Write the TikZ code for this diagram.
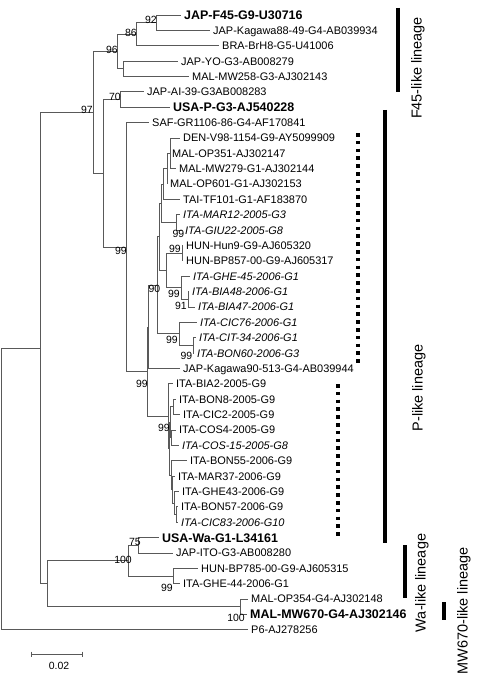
\documentclass[tikz,border=0pt]{standalone}
\usepackage{fontspec}
\setmainfont{Liberation Sans}
\newcommand\leaf[5]{%
  \coordinate (e#1) at (#2-3,#3);
  \node[#4] (L#1) at (#2,#3) {#5};
}
\begin{document}
\begin{tikzpicture}[x=1bp,y=-1bp,
  br/.style={draw=black!65, line width=0.9bp},
  lf/.style={anchor=base west, inner sep=0pt, yshift=-3.9bp, font=\fontsize{11}{13}\selectfont},
  lfi/.style={lf, font=\fontsize{11}{13}\selectfont\itshape},
  lfb/.style={anchor=base west, inner sep=0pt, yshift=-4.5bp, font=\fontsize{12.5}{14}\selectfont\bfseries},
  bs/.style={anchor=east, inner sep=0pt, font=\fontsize{10.5}{12}\selectfont},
  lin/.style={rotate=90, inner sep=0pt, font=\fontsize{14.5}{17}\selectfont},
  lbar/.style={line width=4bp, black},
  dotbar/.style={line width=3.5bp, black, dash pattern=on 3.5bp off 4.3bp},
]
\useasboundingbox (0,0) rectangle (481,678);
\fill[white] (0,0) rectangle (481,678);

% leaves
\leaf{0}{184}{15.00}{lfb}{JAP-F45-G9-U30716}
\leaf{1}{213}{30.37}{lf}{JAP-Kagawa88-49-G4-AB039934}
\leaf{2}{222}{45.74}{lf}{BRA-BrH8-G5-U41006}
\leaf{3}{181}{61.11}{lf}{JAP-YO-G3-AB008279}
\leaf{4}{192}{76.48}{lf}{MAL-MW258-G3-AJ302143}
\leaf{5}{147}{91.85}{lf}{JAP-AI-39-G3AB008283}
\leaf{6}{173}{107.22}{lfb}{USA-P-G3-AJ540228}
\leaf{7}{152}{122.59}{lf}{SAF-GR1106-86-G4-AF170841}
\leaf{8}{183}{137.96}{lf}{DEN-V98-1154-G9-AY5099909}
\leaf{9}{172}{153.33}{lf}{MAL-OP351-AJ302147}
\leaf{10}{179}{168.70}{lf}{MAL-MW279-G1-AJ302144}
\leaf{11}{170}{184.07}{lf}{MAL-OP601-G1-AJ302153}
\leaf{12}{183}{199.44}{lf}{TAI-TF101-G1-AF183870}
\leaf{13}{183}{214.81}{lfi}{ITA-MAR12-2005-G3}
\leaf{14}{185}{230.18}{lfi}{ITA-GIU22-2005-G8}
\leaf{15}{186}{245.55}{lf}{HUN-Hun9-G9-AJ605320}
\leaf{16}{186}{260.92}{lf}{HUN-BP857-00-G9-AJ605317}
\leaf{17}{193}{276.29}{lfi}{ITA-GHE-45-2006-G1}
\leaf{18}{192}{291.66}{lfi}{ITA-BIA48-2006-G1}
\leaf{19}{198}{307.03}{lfi}{ITA-BIA47-2006-G1}
\leaf{20}{200}{322.40}{lfi}{ITA-CIC76-2006-G1}
\leaf{21}{199}{337.77}{lfi}{ITA-CIT-34-2006-G1}
\leaf{22}{197}{353.14}{lfi}{ITA-BON60-2006-G3}
\leaf{23}{183}{368.51}{lf}{JAP-Kagawa90-513-G4-AB039944}
\leaf{24}{176}{383.88}{lf}{ITA-BIA2-2005-G9}
\leaf{25}{179}{399.25}{lf}{ITA-BON8-2005-G9}
\leaf{26}{183}{414.62}{lf}{ITA-CIC2-2005-G9}
\leaf{27}{179}{429.99}{lf}{ITA-COS4-2005-G9}
\leaf{28}{182}{445.36}{lfi}{ITA-COS-15-2005-G8}
\leaf{29}{190}{460.73}{lf}{ITA-BON55-2006-G9}
\leaf{30}{178}{476.10}{lf}{ITA-MAR37-2006-G9}
\leaf{31}{182}{491.47}{lf}{ITA-GHE43-2006-G9}
\leaf{32}{181}{506.84}{lf}{ITA-BON57-2006-G9}
\leaf{33}{181}{522.21}{lfi}{ITA-CIC83-2006-G10}
\leaf{34}{162}{537.58}{lfb}{USA-Wa-G1-L34161}
\leaf{35}{176}{552.95}{lf}{JAP-ITO-G3-AB008280}
\leaf{36}{201}{568.32}{lf}{HUN-BP785-00-G9-AJ605315}
\leaf{37}{183}{583.69}{lf}{ITA-GHE-44-2006-G1}
\leaf{38}{251}{599.06}{lf}{MAL-OP354-G4-AJ302148}
\leaf{39}{250}{614.43}{lfb}{MAL-MW670-G4-AJ302146}
\leaf{40}{251}{629.80}{lf}{P6-AJ278256}

% internal nodes
\coordinate (n92) at (156,22.69);
\coordinate (n86) at (136,34.21);
\coordinate (nYO) at (123,68.80);
\coordinate (n96) at (117,51.51);
\coordinate (n70) at (120,99.54);
\coordinate (q1) at (170,153.33);
\coordinate (q2) at (167,168.70);
\coordinate (q3) at (163,184.07);
\coordinate (q4) at (176,222.50);
\coordinate (q5) at (161,203.29);
\coordinate (q6) at (182,253.24);
\coordinate (q7) at (188,299.35);
\coordinate (q8) at (181,287.82);
\coordinate (q9) at (166,270.53);
\coordinate (nF) at (159.5,236.91);
\coordinate (nH) at (193,345.46);
\coordinate (nG) at (179,333.93);
\coordinate (nE) at (157.5,285.42);
\coordinate (nC) at (148,326.97);
\coordinate (r1) at (173,406.94);
\coordinate (r2) at (171,437.68);
\coordinate (r3) at (170,422.31);
\coordinate (r5) at (176,514.53);
\coordinate (r6) at (174,503.00);
\coordinate (r7) at (172.5,489.55);
\coordinate (r8) at (171,475.14);
\coordinate (r9) at (169.5,448.73);
\coordinate (nD) at (168,416.31);
\coordinate (nB) at (147,371.64);
\coordinate (nA) at (126,247.12);
\coordinate (nP) at (103,173.33);
\coordinate (n97) at (93,112.42);
\coordinate (n75) at (138,545.27);
\coordinate (nHG) at (173,576.01);
\coordinate (nW) at (128,560.64);
\coordinate (nMW) at (240,606.75);
\coordinate (nWM) at (47,583.70);
\coordinate (nbig) at (40,348.06);
\coordinate (root) at (1,488.93);

% branches
\foreach \p/\c in {root/nbig, root/e40, nbig/n97, nbig/nWM, n97/n96, n97/nP,
  n96/n86, n96/nYO, n86/n92, n86/e2, n92/e0, n92/e1, nYO/e3, nYO/e4,
  nP/n70, nP/nA, n70/e5, n70/e6, nA/e7, nA/nB, nB/nC, nB/nD, nC/nE, nC/e23,
  nE/nF, nE/nG, nF/q5, nF/q9, q5/q3, q5/q4, q3/q2, q3/e12, q2/q1, q2/e11,
  q1/e8, q1/e9, q1/e10, q4/e13, q4/e14, q9/q6, q9/q8, q6/e15, q6/e16,
  q8/e17, q8/q7, q7/e18, q7/e19, nG/e20, nG/nH, nH/e21, nH/e22,
  nD/e24, nD/r9, r9/r3, r9/r8, r3/r1, r3/r2, r1/e25, r1/e26, r2/e27, r2/e28,
  r8/e29, r8/r7, r7/e30, r7/r6, r6/e31, r6/r5, r5/e32, r5/e33,
  nWM/nW, nWM/nMW, nW/n75, nW/nHG, n75/e34, n75/e35, nHG/e36, nHG/e37,
  nMW/e38, nMW/e39}
  \draw[br] (\p) |- (\c);

% bootstrap values
\node[bs] (b92) at (157,20) {92};
\node[bs] (b86) at (137,32.5) {86};
\node[bs] (b96) at (118,50) {96};
\node[bs] (b97) at (93,110) {97};
\node[bs] (b70) at (121,97) {70};
\node[bs] (bA) at (127,251) {99};
\node[bs] (b90) at (160.5,289) {90};
\node[bs] (bB) at (148,384) {99};
\node[bs] (bQ4) at (184.5,233.5) {99};
\node[bs] (bQ6) at (181,249) {99};
\node[bs] (bQ8) at (180,294) {99};
\node[bs] (b91) at (187,306) {91};
\node[bs] (bG) at (178,340) {99};
\node[bs] (bH) at (192.5,355.5) {99};
\node[bs] (bD) at (170,428) {99};
\node[bs] (b75) at (141,542) {75};
\node[bs] (bW) at (132,560) {100};
\node[bs] (bHG) at (173,588) {99};
\node[bs] (bMW) at (245,618) {100};

% lineage bars and labels
\draw[lbar] (398,8) -- (398,92);
\node[lin] (linF) at (418,68) {F45-like lineage};
\draw[lbar] (385,110) -- (385,543);
\node[lin] (linP) at (419,388) {P-like lineage};
\draw[lbar] (405,545) -- (405,598);
\node[lin] (linW) at (422,583) {Wa-like lineage};
\draw[lbar] (444,602) -- (444,620);
\node[lin] (linM) at (464,611) {MW670-like lineage};
\draw[dotbar] (358,133) -- (358,366);
\draw[dotbar] (338,384) -- (338,538);

% scale bar
\coordinate (sb1) at (31,654);
\coordinate (sb2) at (82,654);
\draw[br] (sb1) -- (sb2);
\draw[br] ([yshift=2.5bp]sb1) -- ([yshift=-2.5bp]sb1);
\draw[br] ([yshift=2.5bp]sb2) -- ([yshift=-2.5bp]sb2);
\node[font=\fontsize{10.5}{12}\selectfont, inner sep=0pt] (sbl) at (59,666) {0.02};
\end{tikzpicture}
\end{document}
